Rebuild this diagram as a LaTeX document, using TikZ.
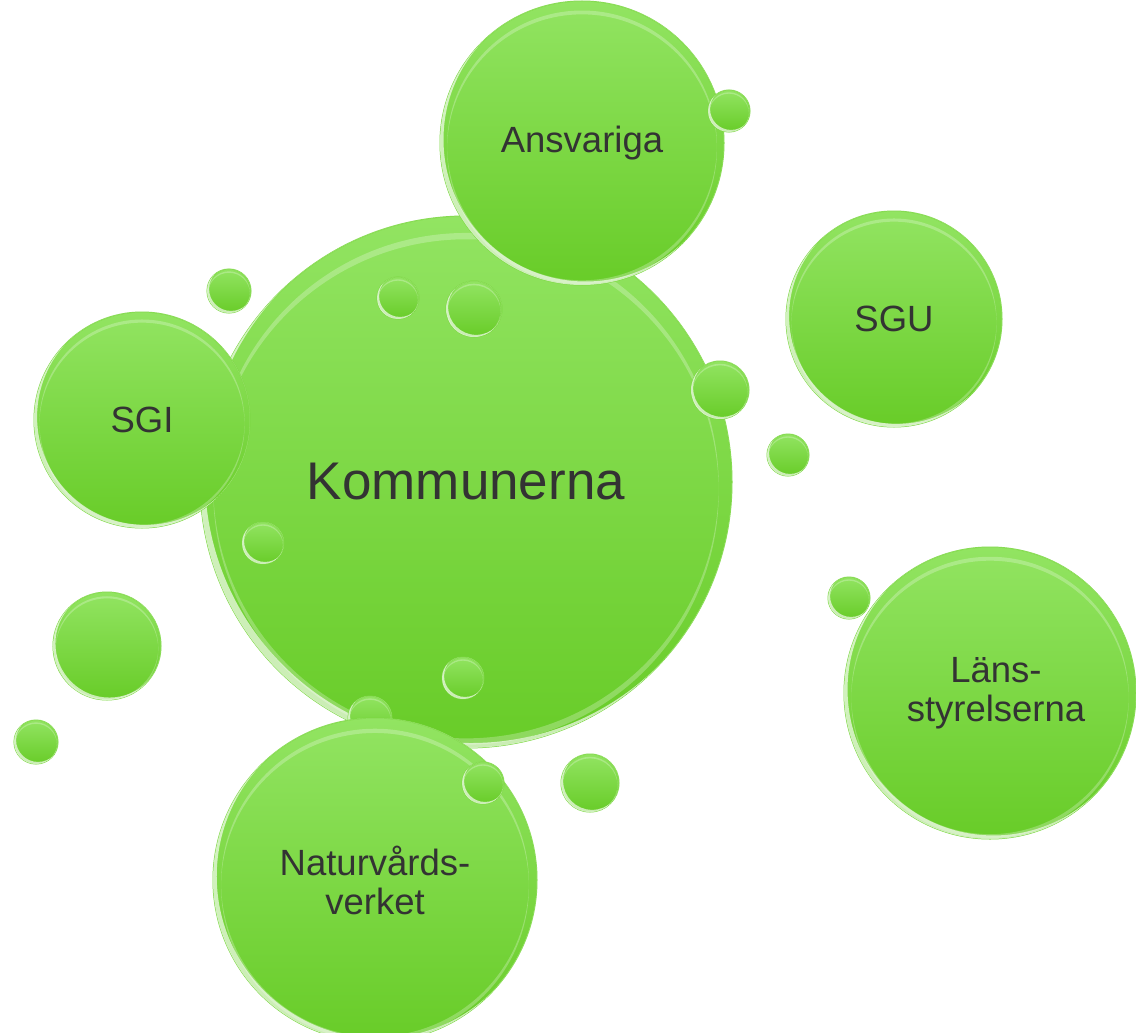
\documentclass[tikz,border=0pt]{standalone}
\usepackage{fontspec}
\setmainfont{Liberation Sans}
\definecolor{btop}{RGB}{146,228,98}
\definecolor{bbot}{RGB}{104,204,40}
\definecolor{brim}{RGB}{124,216,66}
\definecolor{txt}{RGB}{51,51,51}
\tikzset{
  bub/.style={circle, inner sep=0pt, top color=btop, bottom color=bbot, draw=brim, line width=1pt, text=txt, align=center},
  lab/.style={font=\fontsize{36.5}{39}\selectfont},
  biglab/.style={font=\fontsize{53}{60}\selectfont},
  glowlow/.style={white, opacity=.65, even odd rule},
  glowtop/.style={white, opacity=.25, even odd rule}
}
% name, x, y, r, style, text
\newcommand\bubble[6]{%
  \node[bub, minimum size=2*#4pt, #5] (#1) at (#2,#3) {#6};
  \begin{scope}
    \clip (#2,#3) circle[radius=#4pt];
    \fill[glowlow] (#2,#3) circle[radius=#4pt] ({#2+1.8+0.012*#4},{#3-1.8-0.012*#4}) circle[radius=#4pt];
    \fill[glowtop] (#2,{#3+1+0.01*#4}) circle[radius=0.95*#4pt] (#2,{#3+2+0.03*#4}) circle[radius=0.95*#4pt];
  \end{scope}
}
\begin{document}
\begin{tikzpicture}[x=1pt,y=-1pt]
\fill[white] (0,0) rectangle (1136,1033);
\useasboundingbox (0,0) rectangle (1136,1033);
\bubble{komm}{466}{482}{266}{biglab}{Kommunerna}
\bubble{d1}{398}{298}{21}{}{}
\bubble{d2}{474}{309}{28}{}{}
\bubble{d3}{263}{543}{21}{}{}
\bubble{d4}{463}{678}{21}{}{}
\bubble{d5}{370}{718}{22}{}{}
\bubble{d6}{720}{390}{29}{}{}
\bubble{ansv}{582}{143}{142}{lab}{Ansvariga}
\bubble{d7}{729}{111}{21}{}{}
\bubble{sgi}{142}{420}{108}{lab}{SGI}
\bubble{sgu}{894}{319}{108}{lab}{SGU}
\bubble{lans}{990}{693}{146}{lab}{\hspace*{12pt}Läns-\\\hspace*{12pt}styrelserna}
\bubble{d8}{229}{291}{22}{}{}
\bubble{d9}{788}{455}{21}{}{}
\bubble{d10}{849}{598}{21}{}{}
\bubble{d11}{107}{646}{54}{}{}
\bubble{d12}{36}{742}{22}{}{}
\bubble{d13}{590}{783}{29}{}{}
\bubble{natur}{375}{880}{162}{lab}{Naturvårds-\\verket}
\bubble{d14}{483}{783}{21}{}{}
\end{tikzpicture}
\end{document}
